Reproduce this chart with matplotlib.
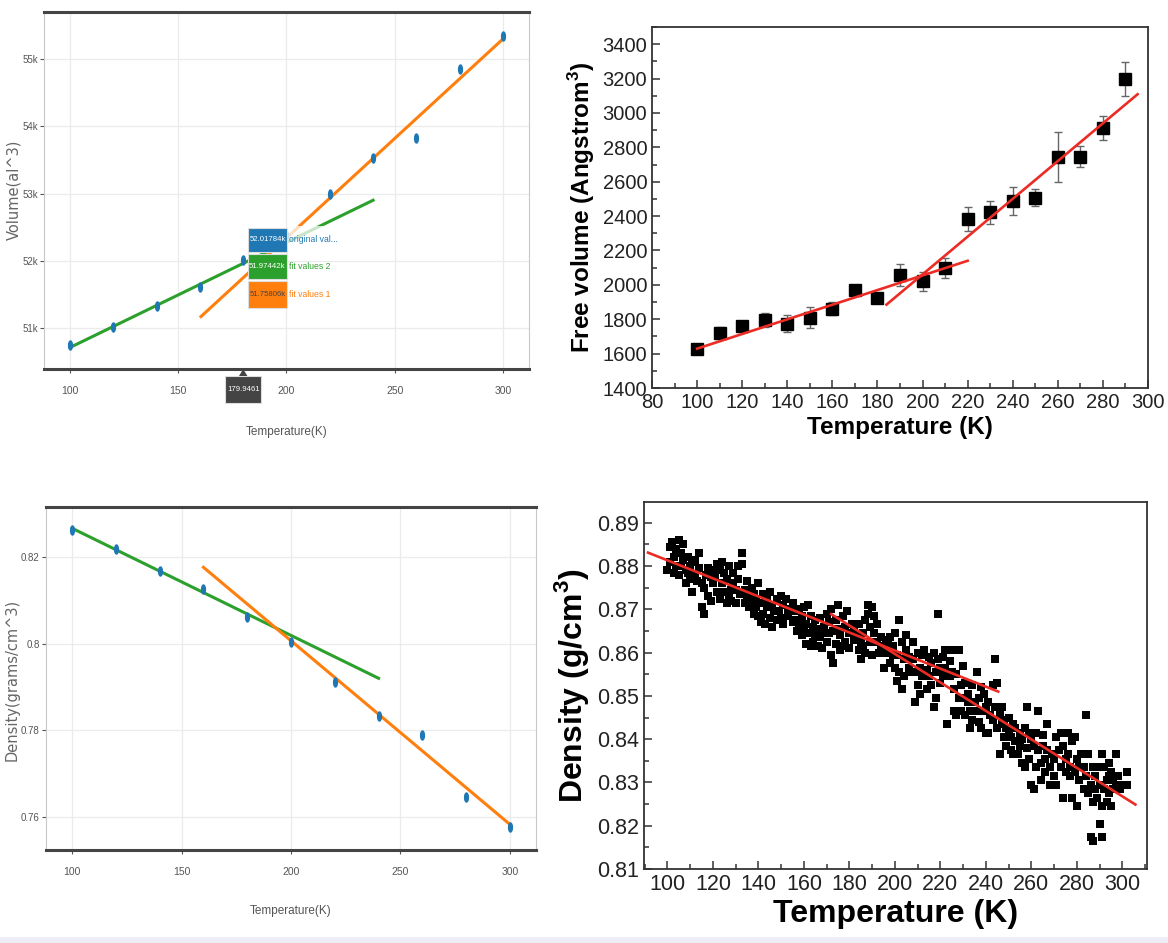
import matplotlib
matplotlib.use('Agg')
import matplotlib.pyplot as plt
import numpy as np
from matplotlib.patches import Rectangle, Polygon
from matplotlib.ticker import MultipleLocator, FuncFormatter, FixedLocator
from matplotlib.path import Path

ARIAL = ['Liberation Sans', 'DejaVu Sans']
plt.rcParams['font.family'] = ARIAL
plt.rcParams['mathtext.fontset'] = 'custom'
plt.rcParams['mathtext.rm'] = 'Liberation Sans'
plt.rcParams['mathtext.bf'] = 'Liberation Sans:bold'

# ---------------- data ----------------
# top-left: volume vs temperature (plotly style)
vol_T = [100, 120, 140, 160, 180, 200, 220, 240, 260, 280, 300]
vol_V = [50750, 51010, 51330, 51610, 52018, 52380, 53000, 53530, 53820, 54850, 55350]
vol_fit1_T = [160.5, 300]
vol_fit1_V = [51170, 55300]
vol_fit2_T = [100, 240]
vol_fit2_V = [50710, 52900]
vol_yticks = [51000, 52000, 53000, 54000, 55000]
hover_labels = ['52.01784k', '51.97442k', '51.75806k']
hover_names = ['original val...', 'fit values 2', 'fit values 1']
hover_x = '179.9461'

# bottom-left: density vs temperature (plotly style)
den_T = [100, 120, 140, 160, 180, 200, 220, 240, 260, 280, 300]
den_D = [0.8262, 0.8218, 0.8167, 0.8126, 0.8061, 0.8004, 0.7911, 0.7832, 0.7789, 0.7646, 0.7576]
den_fit2_T = [100, 240]
den_fit2_D = [0.8266, 0.7920]
den_fit1_T = [160, 300]
den_fit1_D = [0.8176, 0.7583]
den_yticks = [0.76, 0.78, 0.80, 0.82]
den_ylabels = ['0.76', '0.78', '0.8', '0.82']

# top-right: free volume with error bars
fv_T = [100, 110, 120, 130, 140, 150, 160, 170, 180, 190, 200, 210, 220, 230, 240, 250, 260, 270, 280, 290]
fv_V = [1625, 1722, 1761, 1794, 1775, 1810, 1862, 1969, 1924, 2056, 2021, 2099, 2381, 2421, 2489, 2507, 2742, 2746, 2911, 3196]
fv_err = [10, 35, 20, 40, 50, 60, 40, 30, 20, 65, 55, 60, 70, 65, 80, 50, 145, 60, 70, 100]
fv_fit1_T = [100, 220]
fv_fit1_V = [1629, 2140]
fv_fit2_T = [184, 295.4]
fv_fit2_V = [1885, 3109]

# bottom-right: simulated density scatter
sim_T = [100, 101, 102, 103, 104, 104, 105, 105, 106, 106, 107, 107, 108, 108, 109, 110, 110, 103, 101, 109,
         111, 111, 112, 113, 114, 114, 115, 116, 116, 117, 118, 118, 119, 119, 120, 120, 115, 112,
         121, 122, 122, 123, 124, 124, 125, 125, 126, 126, 127, 128, 128, 129, 129, 130, 130, 123, 127,
         131, 131, 132, 133, 133, 134, 134, 135, 136, 137, 137, 138, 138, 139, 140, 140, 135, 139,
         141, 141, 142, 142, 143, 144, 144, 145, 145, 146, 146, 147, 148, 148, 149, 150, 150, 143,
         151, 151, 152, 153, 153, 154, 155, 155, 156, 157, 157, 158, 158, 159, 159, 160, 160, 156,
         161, 161, 162, 162, 163, 164, 164, 165, 165, 166, 166, 167, 167, 168, 168, 169, 170, 170, 163,
         171, 171, 172, 172, 173, 173, 174, 174, 175, 175, 176, 176, 177, 177, 178, 178, 179, 180, 180,
         181, 182, 182, 183, 184, 184, 185, 185, 186, 187, 187, 188, 188, 189, 189, 190, 190, 186,
         191, 191, 192, 192, 193, 194, 194, 195, 196, 196, 197, 198, 198, 199, 199, 200, 200, 197,
         201, 201, 202, 202, 203, 203, 204, 204, 205, 205, 206, 206, 207, 208, 208, 209, 209, 210, 210,
         211, 211, 212, 212, 213, 214, 214, 215, 215, 216, 216, 217, 218, 218, 219, 219, 220, 220, 217,
         221, 221, 222, 222, 223, 224, 224, 225, 225, 226, 226, 227, 228, 228, 229, 229, 230, 230, 227,
         231, 231, 232, 232, 233, 233, 234, 234, 235, 236, 236, 237, 237, 238, 238, 239, 239, 240, 240,
         241, 241, 242, 243, 243, 244, 244, 245, 245, 246, 246, 247, 247, 248, 248, 249, 249, 250, 250,
         251, 251, 252, 253, 253, 254, 255, 255, 256, 256, 257, 257, 258, 258, 259, 259, 260, 260, 252,
         261, 261, 262, 262, 263, 263, 264, 264, 265, 265, 266, 266, 267, 267, 268, 268, 269, 270, 270,
         271, 271, 272, 273, 273, 274, 274, 275, 275, 276, 276, 277, 277, 278, 278, 279, 280, 280, 279,
         281, 281, 282, 283, 283, 284, 284, 285, 285, 286, 286, 287, 287, 288, 288, 289, 289, 290, 290, 287,
         291, 291, 291, 292, 292, 293, 293, 294, 294, 295, 295, 296, 296, 297, 297, 298, 299, 300, 302, 302, 294]
sim_D = [.879, .881, .8855, .882, .880, .884, .886, .878, .883, .880, .885, .8815, .879, .876, .882, .880, .877, .8785, .8845, .8785,
         .874, .881, .878, .8765, .883, .8795, .876, .869, .875, .878, .8795, .873, .8775, .872, .876, .879, .8705, .8815,
         .8775, .874, .8805, .8725, .876, .881, .874, .8785, .8715, .877, .880, .8745, .872, .8785, .876, .8715, .8745, .879, .873,
         .880, .877, .8735, .883, .8805, .8745, .8715, .873, .8705, .872, .875, .869, .8735, .8705, .876, .8685, .8765, .8725,
         .867, .8715, .8735, .869, .8665, .8705, .8725, .868, .874, .8705, .866, .8695, .8675, .8725, .8695, .873, .868, .8715,
         .871, .8665, .8725, .8685, .8695, .870, .867, .8715, .8695, .865, .867, .870, .8665, .864, .8685, .8705, .866, .8675,
         .862, .8665, .871, .8645, .8685, .8625, .866, .864, .8675, .8615, .8655, .868, .8635, .8645, .861, .866, .8625, .869, .8615,
         .867, .8645, .8595, .870, .865, .8575, .8675, .862, .871, .8655, .8605, .864, .8615, .8685, .866, .8625, .8695, .8645, .861,
         .8665, .863, .866, .864, .8665, .8605, .8625, .8585, .8645, .860, .8675, .871, .869, .866, .8625, .8705, .8595, .8615,
         .8685, .8645, .8625, .8665, .860, .8635, .8615, .8565, .8625, .860, .863, .8635, .8575, .8615, .8595, .8645, .8565, .8605,
         .8535, .8595, .8675, .8555, .8625, .8515, .8585, .8545, .864, .8605, .8565, .859, .8555, .8585, .8625, .8485, .8555, .860, .8525,
         .8565, .8505, .8595, .8545, .8605, .856, .8515, .859, .8545, .8575, .8525, .860, .8555, .8495, .869, .8585, .8565, .853, .8475,
         .859, .8545, .8605, .8565, .8435, .858, .8545, .8555, .8605, .8515, .8465, .855, .8495, .8605, .8465, .8525, .857, .8495, .8455,
         .853, .8455, .8485, .8505, .8425, .8465, .8525, .8445, .8485, .8555, .8465, .844, .8495, .852, .8425, .8465, .8505, .8415, .8475,
         .8485, .8415, .8455, .8525, .8445, .8585, .8475, .853, .8425, .8455, .8365, .8435, .8475, .8405, .8445, .8425, .8385, .842, .845,
         .8405, .8375, .8435, .8395, .8425, .8365, .8415, .8385, .8345, .840, .8425, .8335, .8475, .838, .8415, .8355, .8295, .840, .8365,
         .8385, .8285, .8415, .8335, .8465, .8375, .8345, .8305, .8385, .841, .8325, .8355, .8435, .8375, .8335, .8295, .8365, .8355, .8315,
         .8405, .8295, .8375, .8335, .8415, .8385, .8265, .8355, .8325, .8415, .8365, .8315, .8335, .8395, .8265, .8405, .8245, .8355, .8325,
         .8335, .8305, .8365, .8285, .8335, .8455, .8315, .8365, .8275, .8175, .8295, .8165, .8255, .8315, .8285, .8335, .8265, .8205, .8295, .8335,
         .8365, .8245, .8175, .8285, .8335, .8255, .8305, .8345, .8275, .8325, .8245, .8305, .8285, .8365, .8295, .8315, .8285, .8295, .8325, .8295, .8315]
sim_fit1_T = [91.5, 245.4]
sim_fit1_D = [0.8831, 0.8510]
sim_fit2_T = [172, 305.7]
sim_fit2_D = [0.8689, 0.8249]

# ---------------- figure ----------------
W, H = 1168, 943
fig = plt.figure(figsize=(W / 100, H / 100), dpi=100)
fig.patch.set_facecolor('white')
renderer = fig.canvas.get_renderer()


def ax_rect(l, t, r, b):
    return [l / W, 1 - b / H, (r - l) / W, (b - t) / H]


def pbox(x0, y0, x1, y1, fc, ec='none', alpha=1.0, z=20, lw=0.8):
    r = Rectangle((x0 / W, 1 - y1 / H), (x1 - x0) / W, (y1 - y0) / H, transform=fig.transFigure,
                  fc=fc, ec=ec, lw=lw, alpha=alpha, zorder=z)
    fig.add_artist(r)


def ptext(x, y, s, size, **kw):
    return fig.text(x / W, 1 - y / H, s, fontsize=size, family=ARIAL, **kw)


def text_width(s, size):
    tt = fig.text(0, 0, s, fontsize=size, family=ARIAL)
    w = tt.get_window_extent(renderer).width
    tt.remove()
    return w


BLUE, ORANGE, GREEN = '#1f77b4', '#ff7f0e', '#2ca02c'
t = np.linspace(0, 2 * np.pi, 40)
ELL = Path(np.column_stack([0.42 * np.cos(t), np.sin(t)]), closed=True)


def style_plotly(ax):
    ax.set_facecolor('white')
    ax.grid(True, color='#ebebeb', lw=0.9)
    ax.set_axisbelow(True)
    for s in ['top', 'bottom']:
        ax.spines[s].set_color('#444444')
        ax.spines[s].set_linewidth(2.2)
    for s in ['left', 'right']:
        ax.spines[s].set_color('#c8c8c8')
        ax.spines[s].set_linewidth(0.8)
    ax.tick_params(length=3, width=0.8, color='#555555', labelcolor='#555555', labelsize=7)
    ax.tick_params(axis='x', pad=9, labelsize=7.5)
    ax.tick_params(axis='y', pad=1.5)


# ---- top-left ----
ax1 = fig.add_axes(ax_rect(44, 12, 529, 369))
ax1.plot(vol_fit2_T, vol_fit2_V, color=GREEN, lw=2.2, zorder=3)
ax1.plot(vol_fit1_T, vol_fit1_V, color=ORANGE, lw=2.2, zorder=3)
ax1.plot(vol_T, vol_V, ls='none', marker=ELL, ms=6.5, color=BLUE, zorder=4)
ax1.set_xlim(88, 312)
ax1.set_ylim(50390, 55700)
ax1.set_xticks([100, 150, 200, 250, 300])
ax1.set_yticks(vol_yticks)
ax1.yaxis.set_major_formatter(FuncFormatter(lambda v, p: f'{int(round(v / 1000))}k'))
style_plotly(ax1)
ax1.set_xlabel('Temperature(K)', fontsize=8.5, color='#555555')
ax1.xaxis.set_label_coords(0.5, (369 - 426) / 357, transform=ax1.transAxes)
ax1.set_ylabel('Volume(al^3)', fontsize=10.5, color='#666666', family=['DejaVu Sans'])
ax1.yaxis.set_label_coords((21 - 44) / 485, (369 - 190) / 357, transform=ax1.transAxes)

# hover labels (plotly compare mode)
hov_cols = [BLUE, GREEN, ORANGE]
hov_txtc = ['white', 'white', '#444444']
hov_y = [(227.7, 251.7), (254, 279), (281, 308)]
HSIZE = 5.6
bw = max(29.7, max(text_width(s, HSIZE) for s in hover_labels) + 3)
bx0 = 247.7
bx1 = bx0 + bw
pbox(bx1, 226, bx1 + 38, 252, 'white', alpha=0.75, z=15)
for (y0, y1), c, tc, lab, nm in zip(hov_y, hov_cols, hov_txtc, hover_labels, hover_names):
    pbox(bx0, y0, bx1, y1, c, ec='#dddddd', z=20)
    ptext((bx0 + bx1) / 2, (y0 + y1) / 2, lab, HSIZE, color=tc, ha='center', va='center', zorder=21)
    ptext(bx1 + 1.5, (y0 + y1) / 2, nm, 6.2, color=c, ha='left', va='center', zorder=21)

# hover x label
xw = max(26.6, text_width(hover_x, HSIZE) + 3)
pbox(243.2 - xw / 2, 376, 243.2 + xw / 2, 403, '#444444', ec='#dddddd', z=20)
tri = Polygon([[239 / W, 1 - 376 / H], [247.4 / W, 1 - 376 / H], [243.2 / W, 1 - 369 / H]],
              closed=True, transform=fig.transFigure, fc='#444444', ec='none', zorder=20)
fig.add_artist(tri)
ptext(243.2, 389.5, hover_x, HSIZE, color='white', ha='center', va='center', zorder=21)

# ---- bottom-left ----
ax2 = fig.add_axes(ax_rect(46, 507, 536, 850))
ax2.plot(den_fit2_T, den_fit2_D, color=GREEN, lw=2.2, zorder=3)
ax2.plot(den_fit1_T, den_fit1_D, color=ORANGE, lw=2.2, zorder=3)
ax2.plot(den_T, den_D, ls='none', marker=ELL, ms=6.5, color=BLUE, zorder=4)
ax2.set_xlim(88.1, 311.9)
ax2.set_ylim(0.7524, 0.8315)
ax2.set_xticks([100, 150, 200, 250, 300])
ax2.set_yticks(den_yticks)
ax2.set_yticklabels(den_ylabels)
style_plotly(ax2)
ax2.set_xlabel('Temperature(K)', fontsize=8.5, color='#555555')
ax2.xaxis.set_label_coords(0.5, (850 - 905) / 343, transform=ax2.transAxes)
ax2.set_ylabel('Density(grams/cm^3)', fontsize=10.5, color='#666666', family=['DejaVu Sans'])
ax2.yaxis.set_label_coords((20 - 46) / 490, (850 - 680) / 343, transform=ax2.transAxes)


def style_origin(ax, tsize):
    for s in ax.spines.values():
        s.set_color('#333333')
        s.set_linewidth(1.3)
    ax.tick_params(which='both', direction='in', top=False, right=False, color='#333333',
                   labelcolor='#222222', labelsize=tsize, width=1.1)
    ax.tick_params(which='major', length=6)
    ax.tick_params(which='minor', length=3.5)


RED = '#ec2b25'

# ---- top-right ----
ax3 = fig.add_axes(ax_rect(652, 27, 1148, 388))
ax3.errorbar(fv_T, fv_V, yerr=fv_err, fmt='s', color='black', ms=8, ecolor='#666666',
             elinewidth=1.0, capsize=3, capthick=1.0, zorder=3)
ax3.plot(fv_fit1_T, fv_fit1_V, color=RED, lw=1.9, zorder=4)
ax3.plot(fv_fit2_T, fv_fit2_V, color=RED, lw=1.9, zorder=4)
ax3.set_xlim(80, 300)
ax3.set_ylim(1400, 3500)
ax3.xaxis.set_major_locator(MultipleLocator(20))
ax3.xaxis.set_minor_locator(MultipleLocator(10))
ax3.yaxis.set_major_locator(FixedLocator(list(range(1400, 3401, 200))))
ax3.yaxis.set_minor_locator(MultipleLocator(100))
style_origin(ax3, 14.5)
ax3.set_xlabel('Temperature (K)', fontsize=17.5, fontweight='bold', labelpad=3)
ax3.set_ylabel(r'Free volume (Angstrom$^{\mathbf{3}}$)', fontsize=17.5, fontweight='bold', labelpad=4)

# ---- bottom-right ----
ax4 = fig.add_axes(ax_rect(643.5, 502, 1147, 869))
ax4.scatter(sim_T, sim_D, marker='s', s=32, c='black', linewidths=0, zorder=3)
ax4.plot(sim_fit1_T, sim_fit1_D, color=RED, lw=1.9, zorder=4)
ax4.plot(sim_fit2_T, sim_fit2_D, color=RED, lw=1.9, zorder=4)
ax4.set_xlim(89.5, 310.8)
ax4.set_ylim(0.81, 0.8948)
ax4.xaxis.set_major_locator(FixedLocator(list(range(100, 301, 20))))
ax4.xaxis.set_minor_locator(MultipleLocator(10))
ax4.yaxis.set_major_locator(MultipleLocator(0.01))
ax4.yaxis.set_minor_locator(MultipleLocator(0.005))
ax4.yaxis.set_major_formatter(FuncFormatter(lambda v, p: f'{v:.2f}'))
style_origin(ax4, 15.5)
ax4.set_xlabel('Temperature (K)', fontsize=23, fontweight='bold', labelpad=3)
ax4.set_ylabel(r'Density (g/cm$^{\mathbf{3}}$)', fontsize=23, fontweight='bold', labelpad=4)

# faint strip at bottom edge
pbox(0, 937, W, 943, '#eeeef6', z=1)

fig.savefig('out.png', dpi=100, facecolor='white')
